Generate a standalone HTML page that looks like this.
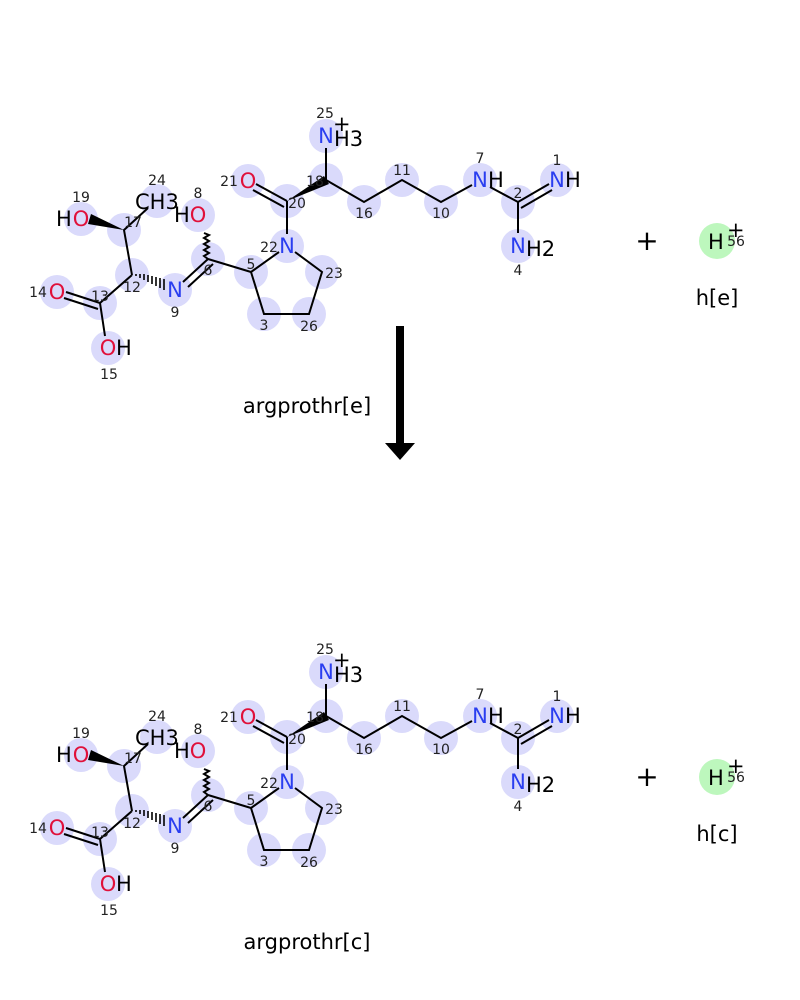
<!DOCTYPE html>
<html><head><meta charset="utf-8"><style>
html,body{margin:0;padding:0;background:#fff;}
svg{display:block;font-family:"DejaVu Sans","Liberation Sans",sans-serif;}
.a{fill:#dadafb}
.b{stroke:#000;stroke-width:2;fill:none}
.n{font-size:14px;fill:#222;text-anchor:middle}
.N{fill:#2a3ef0;font-size:21px;text-anchor:middle}
.O{fill:#e0103a;font-size:21px;text-anchor:middle}
.K{fill:#000;font-size:21px}
.t{font-size:21px;fill:#000;text-anchor:middle}
</style></head><body>
<svg width="800" height="1000" viewBox="0 0 800 1000">
<g>
<g class="a">
<circle cx="326" cy="136" r="17"/><circle cx="326" cy="180" r="17"/><circle cx="287" cy="201" r="17"/>
<circle cx="248" cy="181" r="17"/><circle cx="287" cy="246" r="17"/><circle cx="251" cy="272" r="17"/>
<circle cx="322" cy="272" r="17"/><circle cx="264" cy="314" r="17"/><circle cx="309" cy="314" r="17"/>
<circle cx="364" cy="202" r="17"/><circle cx="402" cy="180" r="17"/><circle cx="441" cy="202" r="17"/>
<circle cx="480" cy="180" r="17"/><circle cx="518" cy="202" r="17"/><circle cx="557" cy="180" r="17"/>
<circle cx="518" cy="246" r="17"/><circle cx="208" cy="259" r="17"/><circle cx="198" cy="215" r="17"/>
<circle cx="175" cy="290" r="17"/><circle cx="132" cy="275" r="17"/><circle cx="124" cy="230" r="17"/>
<circle cx="157" cy="201" r="17"/><circle cx="81" cy="219" r="17"/><circle cx="100" cy="303" r="17"/>
<circle cx="57" cy="292" r="17"/><circle cx="108" cy="348" r="17"/>
</g>
<path class="b" d="M326 180V148 M326 180L364 202L402 180L441 202L472 185 M490 187L518 202 M518 202L549 184 M521 208L552 190 M518 202V233
M287 201L256 184 M284 207L253 190 M287 201V234 M279 252L251 272 M295 252L322 272L309 314L264 314L251 272 M251 272L208 259
M208 259L183 282 M213 264L188 287 M132 275L124 230L148 208 M132 275L100 303 M100 303L66 292 M98 309L64 298 M100 303L105 336"/>
<path class="b" stroke-width="1.5" d="M208 259l-4-3 5-3-5-3 5-3-5-3 5-3-5-3 5-3-5-2"/>
<polygon points="287,201 324,176 329,184" fill="#000"/>
<polygon points="124,230 91,214 88,224" fill="#000"/>
<path stroke="#000" stroke-width="1.6" d="M136 274v2 M140 274v4 M144 274v6 M148 275v7 M152 276v8 M156 277v9 M160 278v10 M164 279v11"/>
<text class="N" x="326" y="143">N</text><text class="K" x="334" y="146">H3</text><text class="K" x="333" y="131">+</text>
<text class="O" x="248" y="188">O</text>
<text class="N" x="287" y="253">N</text>
<text class="N" x="480" y="187">N</text><text class="K" x="488" y="187">H</text>
<text class="N" x="557" y="187">N</text><text class="K" x="565" y="187">H</text>
<text class="N" x="518" y="253">N</text><text class="K" x="526" y="256">H2</text>
<text class="O" x="198" y="222">O</text><text class="K" x="174" y="222">H</text>
<text class="N" x="175" y="297">N</text>
<text class="K" x="135" y="209">CH3</text>
<text class="O" x="81" y="226">O</text><text class="K" x="56" y="226">H</text>
<text class="O" x="57" y="299">O</text>
<text class="O" x="108" y="355">O</text><text class="K" x="116" y="355">H</text>
<g class="n">
<text x="325" y="118">25</text><text x="315" y="186">18</text><text x="297" y="208">20</text><text x="229" y="186">21</text>
<text x="269" y="252">22</text><text x="251" y="269">5</text><text x="334" y="278">23</text><text x="264" y="330">3</text>
<text x="309" y="331">26</text><text x="364" y="218">16</text><text x="402" y="175">11</text><text x="441" y="218">10</text>
<text x="480" y="163">7</text><text x="518" y="198">2</text><text x="557" y="165">1</text><text x="518" y="275">4</text>
<text x="208" y="275">6</text><text x="198" y="198">8</text><text x="175" y="317">9</text><text x="132" y="292">12</text>
<text x="133" y="227">17</text><text x="157" y="185">24</text><text x="81" y="202">19</text><text x="100" y="301">13</text>
<text x="38" y="297">14</text><text x="109" y="379">15</text>
</g>
<text class="t" x="647" y="250" style="font-size:28px">+</text>
<circle cx="717" cy="241" r="18" fill="#bdf7bd"/>
<text class="K" x="708" y="249">H</text><text class="n" x="736" y="246">56</text><text class="K" x="727" y="237">+</text>
<text class="t" x="717" y="305">h[e]</text>
<text class="t" x="307" y="413">argprothr[e]</text>
</g>
<rect x="396" y="326" width="8" height="119" fill="#000"/>
<polygon points="385,443 415,443 400,460" fill="#000"/>
<g transform="translate(0,536)">
<g class="a">
<circle cx="326" cy="136" r="17"/><circle cx="326" cy="180" r="17"/><circle cx="287" cy="201" r="17"/>
<circle cx="248" cy="181" r="17"/><circle cx="287" cy="246" r="17"/><circle cx="251" cy="272" r="17"/>
<circle cx="322" cy="272" r="17"/><circle cx="264" cy="314" r="17"/><circle cx="309" cy="314" r="17"/>
<circle cx="364" cy="202" r="17"/><circle cx="402" cy="180" r="17"/><circle cx="441" cy="202" r="17"/>
<circle cx="480" cy="180" r="17"/><circle cx="518" cy="202" r="17"/><circle cx="557" cy="180" r="17"/>
<circle cx="518" cy="246" r="17"/><circle cx="208" cy="259" r="17"/><circle cx="198" cy="215" r="17"/>
<circle cx="175" cy="290" r="17"/><circle cx="132" cy="275" r="17"/><circle cx="124" cy="230" r="17"/>
<circle cx="157" cy="201" r="17"/><circle cx="81" cy="219" r="17"/><circle cx="100" cy="303" r="17"/>
<circle cx="57" cy="292" r="17"/><circle cx="108" cy="348" r="17"/>
</g>
<path class="b" d="M326 180V148 M326 180L364 202L402 180L441 202L472 185 M490 187L518 202 M518 202L549 184 M521 208L552 190 M518 202V233
M287 201L256 184 M284 207L253 190 M287 201V234 M279 252L251 272 M295 252L322 272L309 314L264 314L251 272 M251 272L208 259
M208 259L183 282 M213 264L188 287 M132 275L124 230L148 208 M132 275L100 303 M100 303L66 292 M98 309L64 298 M100 303L105 336"/>
<path class="b" stroke-width="1.5" d="M208 259l-4-3 5-3-5-3 5-3-5-3 5-3-5-3 5-3-5-2"/>
<polygon points="287,201 324,176 329,184" fill="#000"/>
<polygon points="124,230 91,214 88,224" fill="#000"/>
<path stroke="#000" stroke-width="1.6" d="M136 274v2 M140 274v4 M144 274v6 M148 275v7 M152 276v8 M156 277v9 M160 278v10 M164 279v11"/>
<text class="N" x="326" y="143">N</text><text class="K" x="334" y="146">H3</text><text class="K" x="333" y="131">+</text>
<text class="O" x="248" y="188">O</text>
<text class="N" x="287" y="253">N</text>
<text class="N" x="480" y="187">N</text><text class="K" x="488" y="187">H</text>
<text class="N" x="557" y="187">N</text><text class="K" x="565" y="187">H</text>
<text class="N" x="518" y="253">N</text><text class="K" x="526" y="256">H2</text>
<text class="O" x="198" y="222">O</text><text class="K" x="174" y="222">H</text>
<text class="N" x="175" y="297">N</text>
<text class="K" x="135" y="209">CH3</text>
<text class="O" x="81" y="226">O</text><text class="K" x="56" y="226">H</text>
<text class="O" x="57" y="299">O</text>
<text class="O" x="108" y="355">O</text><text class="K" x="116" y="355">H</text>
<g class="n">
<text x="325" y="118">25</text><text x="315" y="186">18</text><text x="297" y="208">20</text><text x="229" y="186">21</text>
<text x="269" y="252">22</text><text x="251" y="269">5</text><text x="334" y="278">23</text><text x="264" y="330">3</text>
<text x="309" y="331">26</text><text x="364" y="218">16</text><text x="402" y="175">11</text><text x="441" y="218">10</text>
<text x="480" y="163">7</text><text x="518" y="198">2</text><text x="557" y="165">1</text><text x="518" y="275">4</text>
<text x="208" y="275">6</text><text x="198" y="198">8</text><text x="175" y="317">9</text><text x="132" y="292">12</text>
<text x="133" y="227">17</text><text x="157" y="185">24</text><text x="81" y="202">19</text><text x="100" y="301">13</text>
<text x="38" y="297">14</text><text x="109" y="379">15</text>
</g>
<text class="t" x="647" y="250" style="font-size:28px">+</text>
<circle cx="717" cy="241" r="18" fill="#bdf7bd"/>
<text class="K" x="708" y="249">H</text><text class="n" x="736" y="246">56</text><text class="K" x="727" y="237">+</text>
<text class="t" x="717" y="305">h[c]</text>
<text class="t" x="307" y="413">argprothr[c]</text>
</g>
</svg>
</body></html>
